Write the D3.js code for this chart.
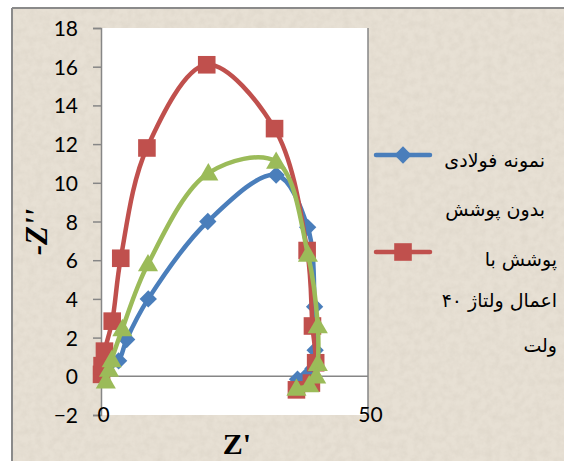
<!DOCTYPE html>
<html>
<head>
<meta charset="utf-8">
<script src="https://cdn.jsdelivr.net/npm/d3@7"></script>
<style>
  html, body { margin: 0; padding: 0; background: #ffffff; }
  svg { display: block; }
  .axis-title { font-family: "Times New Roman", Times, "Liberation Serif", "DejaVu Serif", Georgia, serif; font-weight: 700; fill: #000; }
  .axis-title.italic { font-style: italic; }
</style>
</head>
<body>
<svg id="chart" width="564" height="461"></svg>
<script>
// Nyquist data: real part Z' (x) and negative imaginary part -Z'' (y)
const seriesNames = ["نمونه فولادی بدون پوشش", "پوشش با اعمال ولتاژ ۴۰ ولت", "سری ۳"];

const bareZre  = [0.2, 1.0, 3.3, 4.8, 8.85, 20.0, 32.8, 38.7, 40.0, 40.1, 39.7, 38.4, 36.8];
const bareZim  = [0.05, 0.3, 0.8, 1.9, 4.0, 8.0, 10.4, 7.7, 3.6, 1.35, 0.4, 0.0, -0.15];

const coatZre  = [0.1, 0.2, 0.65, 2.1, 3.7, 8.6, 19.8, 32.5, 38.6, 39.6, 40.2, 39.4, 36.6];
const coatZim  = [0.1, 0.55, 1.3, 2.85, 6.1, 11.8, 16.1, 12.8, 6.5, 2.6, 0.7, -0.35, -0.7];

const thirdZre = [0.9, 1.5, 2.0, 4.0, 8.8, 20.1, 32.8, 38.75, 40.6, 40.6, 40.3, 39.0, 36.6];
const thirdZim = [-0.25, 0.35, 0.85, 2.45, 5.8, 10.5, 11.1, 6.3, 2.6, 0.65, 0.0, -0.45, -0.63];

const xTickValues = [0, 50];
const yTickValues = [-2, 0, 2, 4, 6, 8, 10, 12, 14, 16, 18];

const legendLines = [
  ["نمونه فولادی", "بدون پوشش"],
  ["پوشش با", "اعمال ولتاژ ۴۰", "ولت"]
];

const colors = ["#4a7ebb", "#c0504d", "#9bbb59"];

const svg = d3.select("#chart");

// textured chart background
const defs = svg.append("defs");
const noise = defs.append("filter").attr("id", "paper")
  .attr("x", 0).attr("y", 0).attr("width", "100%").attr("height", "100%");
noise.append("feTurbulence").attr("type", "fractalNoise")
  .attr("baseFrequency", 0.14).attr("numOctaves", 3).attr("seed", 7).attr("result", "n");
noise.append("feColorMatrix").attr("in", "n").attr("type", "matrix")
  .attr("values", "0 0 0 0 0.45  0 0 0 0 0.40  0 0 0 0 0.33  0 0 0 -1.1 0.75");

svg.append("rect").attr("x", 12).attr("y", 8).attr("width", 552).attr("height", 453)
  .attr("fill", "#e7e0d4");
svg.append("rect").attr("x", 12).attr("y", 8).attr("width", 552).attr("height", 453)
  .attr("filter", "url(#paper)").attr("opacity", 0.22);

// chart border (top and left edges)
svg.append("line").attr("x1", 12).attr("y1", 8).attr("x2", 564).attr("y2", 8)
  .attr("stroke", "#8a8a8a").attr("stroke-width", 2);
svg.append("line").attr("x1", 12).attr("y1", 8).attr("x2", 12).attr("y2", 461)
  .attr("stroke", "#8a8a8a").attr("stroke-width", 2);

// scales
const x = d3.scaleLinear().domain([0, 50]).range([101, 368]);
const y = d3.scaleLinear().domain([-2, 18]).range([415, 28]);

// plot area
svg.append("rect")
  .attr("x", x(0)).attr("y", y(18))
  .attr("width", x(50) - x(0)).attr("height", y(-2) - y(18))
  .attr("fill", "#ffffff");

// vertical gridline at the last major x tick
svg.append("line")
  .attr("x1", x(50)).attr("x2", x(50)).attr("y1", y(18)).attr("y2", y(-2))
  .attr("stroke", "#868686").attr("stroke-width", 1.5);

// horizontal axis line crossing at -Z'' = 0
svg.append("line")
  .attr("x1", x(0)).attr("x2", x(50)).attr("y1", y(0)).attr("y2", y(0))
  .attr("stroke", "#868686").attr("stroke-width", 1.5);

// y axis
const yAxis = d3.axisLeft(y).tickValues(yTickValues).tickSize(8).tickPadding(15)
  .tickFormat(d3.format("d"));
const gy = svg.append("g").attr("transform", `translate(${x(0)},0)`).call(yAxis);
gy.attr("font-family", null).attr("font-size", null);
gy.select(".domain").attr("stroke", "#868686").attr("stroke-width", 1.5);
gy.selectAll(".tick line").attr("stroke", "#868686").attr("stroke-width", 1.5);
gy.selectAll(".tick text")
  .style("font-family", "Lato, 'Open Sans', sans-serif")
  .style("font-size", "21px").attr("fill", "#000").attr("dy", "0.36em");

// x tick labels, placed along the bottom of the plot
svg.append("g").selectAll("text").data(xTickValues).join("text")
  .attr("x", d => x(d) + 2.5)
  .attr("y", y(-2) - 1)
  .attr("dy", "0.36em")
  .attr("text-anchor", "middle")
  .style("font-family", "Lato, 'Open Sans', sans-serif")
  .style("font-size", "21px").attr("fill", "#000")
  .text(d => d);

// axis titles
svg.append("text")
  .attr("class", "axis-title italic")
  .attr("transform", "translate(47,232) rotate(-90)")
  .attr("text-anchor", "middle")
  .style("font-size", "31px")
  .text("-Z''");

svg.append("text")
  .attr("class", "axis-title")
  .attr("x", 237).attr("y", 454)
  .attr("text-anchor", "middle")
  .style("font-size", "30px")
  .text("Z'");

// marker shapes
const diamondPath = d3.symbol(d3.symbolSquare, 150)();
const squarePath = d3.symbol(d3.symbolSquare, 310)();
const trianglePath = d3.symbol(d3.symbolTriangle, 175)();

function drawMarker(g, kind, px, py, color) {
  if (kind === "diamond") {
    g.append("path").attr("d", diamondPath)
      .attr("transform", `translate(${px},${py}) rotate(45)`).attr("fill", color);
  } else if (kind === "square") {
    g.append("path").attr("d", squarePath)
      .attr("transform", `translate(${px},${py})`).attr("fill", color);
  } else {
    g.append("path").attr("d", trianglePath)
      .attr("transform", `translate(${px},${py + 1.5})`).attr("fill", color);
  }
}

const series = [
  { xs: bareZre, ys: bareZim, color: colors[0], marker: "diamond" },
  { xs: coatZre, ys: coatZim, color: colors[1], marker: "square" },
  { xs: thirdZre, ys: thirdZim, color: colors[2], marker: "triangle" }
];

const line = d3.line()
  .x(d => x(d[0])).y(d => y(d[1]))
  .curve(d3.curveCatmullRom.alpha(0.5));

series.forEach(s => {
  const pts = s.xs.map((v, i) => [v, s.ys[i]]);
  const g = svg.append("g");
  g.append("path").datum(pts).attr("d", line)
    .attr("fill", "none").attr("stroke", s.color)
    .attr("stroke-width", 4.5).attr("stroke-linejoin", "round").attr("stroke-linecap", "round");
  pts.forEach(p => drawMarker(g, s.marker, x(p[0]), y(p[1]), s.color));
});

// legend
const legendRows = [
  { ly: 155, color: colors[0], marker: "diamond", lines: legendLines[0], right: 545, ys: [160, 209] },
  { ly: 252, color: colors[1], marker: "square", lines: legendLines[1], right: 557, ys: [259, 300, 345] }
];
legendRows.forEach(r => {
  const g = svg.append("g");
  g.append("line").attr("x1", 376).attr("x2", 430).attr("y1", r.ly).attr("y2", r.ly)
    .attr("stroke", r.color).attr("stroke-width", 4.5).attr("stroke-linecap", "round");
  drawMarker(g, r.marker, 403, r.ly, r.color);
  r.lines.forEach((t, i) => {
    g.append("text")
      .attr("x", r.right).attr("y", r.ys[i]).attr("dy", "0.35em")
      .attr("text-anchor", "end")
      .style("font-family", "'DejaVu Sans', 'Noto Sans', sans-serif")
      .style("font-size", "19px").attr("fill", "#000")
      .text(t);
  });
});
</script>
</body>
</html>
